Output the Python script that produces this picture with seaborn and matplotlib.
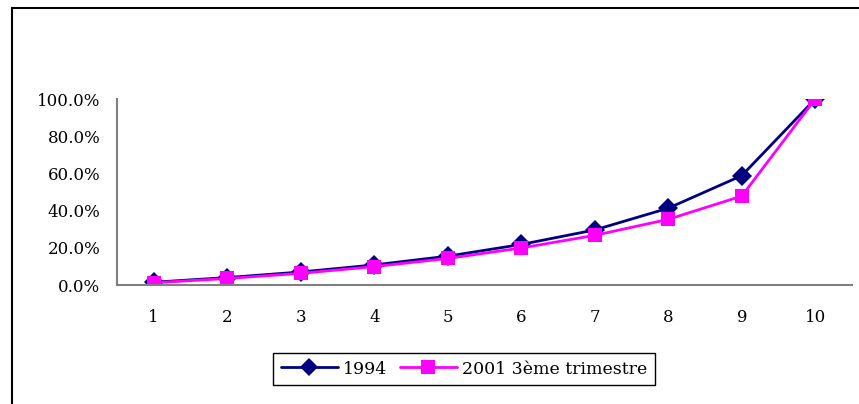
import seaborn as sns
import matplotlib.pyplot as plt
import pandas as pd
from matplotlib.patches import Rectangle
from matplotlib.ticker import FixedLocator, PercentFormatter

# données
rangs = [1, 2, 3, 4, 5, 6, 7, 8, 9, 10]
serie_1994 = [1.5, 4.0, 7.0, 10.8, 15.5, 21.8, 29.6, 41.3, 58.8, 100.0]
serie_2001 = [1.2, 3.5, 6.3, 9.9, 14.3, 19.9, 26.7, 35.3, 47.8, 100.0]
noms = ["1994", "2001 3ème trimestre"]

df = pd.DataFrame({
    "rang": rangs * 2,
    "valeur": [v / 100 for v in serie_1994 + serie_2001],
    "serie": [noms[0]] * len(rangs) + [noms[1]] * len(rangs),
})

sns.set_style("white")
plt.rcParams['font.family'] = ['DejaVu Serif']
plt.rcParams['font.size'] = 12
plt.rcParams['text.color'] = 'black'
plt.rcParams['xtick.labelcolor'] = 'black'
plt.rcParams['ytick.labelcolor'] = 'black'

fig = plt.figure(figsize=(8.59, 4.04), dpi=100)
ax = fig.add_axes([117 / 859, 1 - 285 / 404, 735 / 859, 186 / 404])

sns.lineplot(data=df, x="rang", y="valeur", hue="serie", style="serie",
             markers=["D", "s"], dashes=False, palette=["#000080", "#FF00FF"],
             markersize=10.5, linewidth=2, markeredgewidth=0, ax=ax, legend=True)

ax.set_xlim(0.5, 10.5)
ax.set_ylim(0, 1.0)
ax.xaxis.set_major_locator(FixedLocator([r - 0.5 for r in rangs] + [10.5]))
ax.xaxis.set_minor_locator(FixedLocator(rangs))
ax.set_xticklabels([], minor=False)
ax.set_xticklabels([str(r) for r in rangs], minor=True)
ax.tick_params(axis="x", which="major", length=6, width=1, color="#808080", direction="out")
ax.tick_params(axis="x", which="minor", length=0, pad=17, labelsize=12, labelcolor="black")
ax.set_yticks([0, 0.2, 0.4, 0.6, 0.8, 1.0])
ax.yaxis.set_major_formatter(PercentFormatter(1.0, decimals=1))
ax.tick_params(axis="y", length=6, width=1, color="#808080", direction="out", pad=6,
               labelsize=12, labelcolor="black")
ax.set_xlabel("")
ax.set_ylabel("")
for s in ["top", "right"]:
    ax.spines[s].set_visible(False)
for s in ["left", "bottom"]:
    ax.spines[s].set_color("#808080")
    ax.spines[s].set_linewidth(1.5)

handles, labels = ax.get_legend_handles_labels()
ax.legend(handles, labels, ncol=2, loc="center", bbox_to_anchor=(464 / 859, 1 - 369 / 404),
          bbox_transform=fig.transFigure, frameon=True, fancybox=False, edgecolor="black",
          framealpha=1, fontsize=12.5, handlelength=3.3, columnspacing=0.7, handletextpad=0.3,
          borderpad=0.45, markerscale=0.9, labelcolor="black")

# cadre du graphique
fig.patches.append(Rectangle((11.5 / 859, -0.1), 1.0, 1.1 - 8.5 / 404, transform=fig.transFigure,
                             fill=False, edgecolor="black", linewidth=1.5))

fig.savefig("out.png", dpi=100)
